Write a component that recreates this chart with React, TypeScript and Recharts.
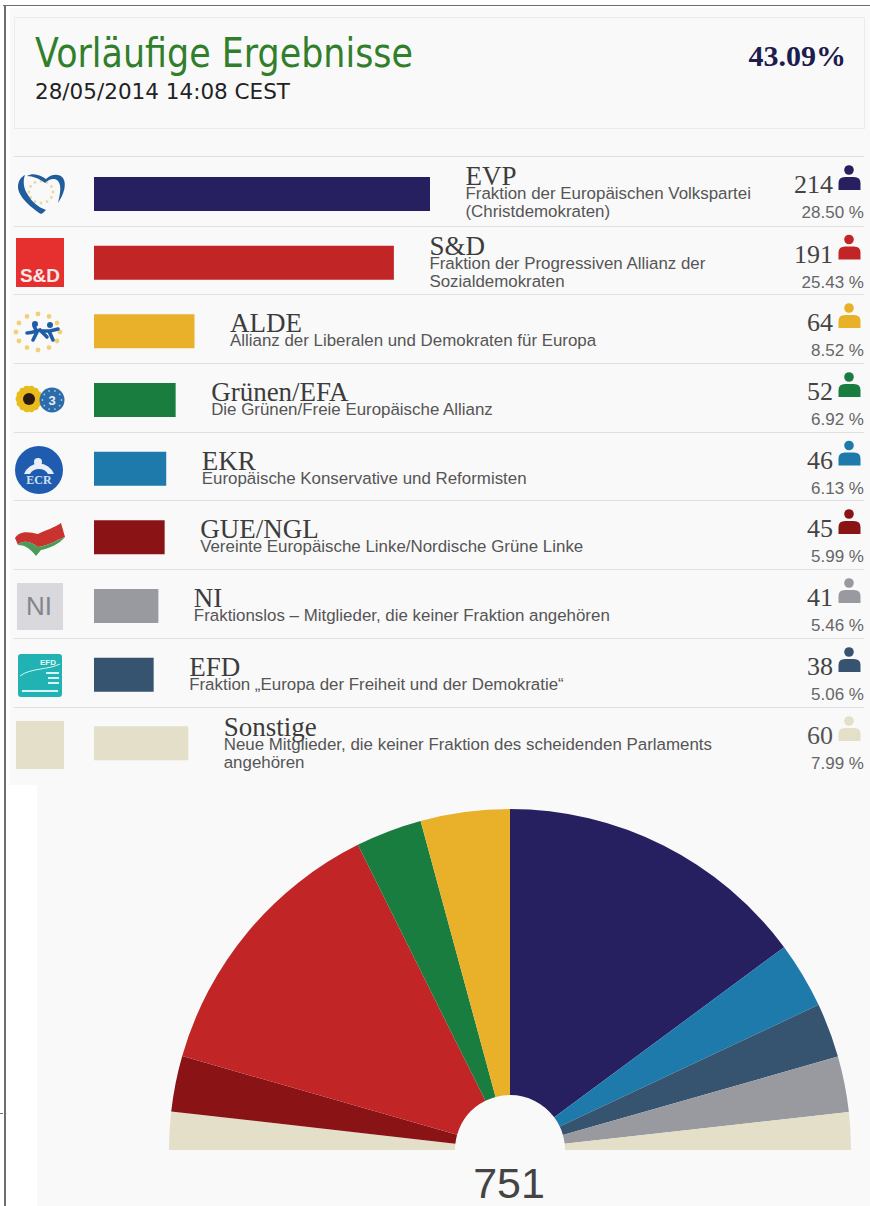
import React from "react";
import { BarChart, Bar, XAxis, YAxis, Cell, PieChart, Pie } from "recharts";

const groupNames = ["EVP", "S&D", "ALDE", "Grünen/EFA", "EKR", "GUE/NGL", "NI", "EFD", "Sonstige"];
const seats = [214, 191, 64, 52, 46, 45, 41, 38, 60];
const percents = ["28.50 %", "25.43 %", "8.52 %", "6.92 %", "6.13 %", "5.99 %", "5.46 %", "5.06 %", "7.99 %"];
const descriptions = [
  ["Fraktion der Europäischen Volkspartei", "(Christdemokraten)"],
  ["Fraktion der Progressiven Allianz der", "Sozialdemokraten"],
  ["Allianz der Liberalen und Demokraten für Europa"],
  ["Die Grünen/Freie Europäische Allianz"],
  ["Europäische Konservative und Reformisten"],
  ["Vereinte Europäische Linke/Nordische Grüne Linke"],
  ["Fraktionslos – Mitglieder, die keiner Fraktion angehören"],
  ["Fraktion „Europa der Freiheit und der Demokratie“"],
  ["Neue Mitglieder, die keiner Fraktion des scheidenden Parlaments", "angehören"],
];
const colors = ["#262060", "#c12526", "#e9b02a", "#1a7d40", "#1d7aab", "#8a1316", "#999aa0", "#36546f", "#e3dfc8"];

// Slice sizes in the hemicycle, as drawn (degrees of the half circle, left to right).
const hemicycleNames = ["Sonstige", "GUE/NGL", "S&D", "Grünen/EFA", "ALDE", "EVP", "EKR", "EFD", "NI", "Sonstige"];
const hemicycleValues = [6.5, 9.5, 47.5, 11.3, 15.2, 53.5, 11.3, 9.3, 9.5, 6.4];
const hemicycleColors = ["#e3dfc8", "#8a1316", "#c12526", "#1a7d40", "#e9b02a", "#262060", "#1d7aab", "#36546f", "#999aa0", "#e3dfc8"];

const title = "Vorläufige Ergebnisse";
const timestamp = "28/05/2014 14:08 CEST";
const turnout = "43.09%";
const totalSeats = "751";

const barRows = groupNames.map((name, i) => ({ name, seats: seats[i] }));
const pieRows = hemicycleNames.map((name, i) => ({ name, value: hemicycleValues[i] }));

const ROW_TOPS = [156, 225.5, 294, 363, 431.5, 500, 569, 638, 707];
const PX_PER_SEAT = 336 / 214;
const SANS = "'Liberation Sans', Arial, sans-serif";
const SERIF = "'Liberation Serif', Georgia, serif";
const DEJA = "'DejaVu Sans', Verdana, sans-serif";

function Stars({ cx, cy, rx, ry, n, r, fill }: any) {
  return (
    <g fill={fill}>
      {Array.from({ length: n }).map((_, i) => {
        const a = (i / n) * Math.PI * 2;
        return <circle key={i} cx={cx + rx * Math.cos(a)} cy={cy + ry * Math.sin(a)} r={r} />;
      })}
    </g>
  );
}

function Logos() {
  return (
    <g>
      {/* EVP heart */}
      <Stars cx={41} cy={192} rx={12} ry={11} n={12} r={1.4} fill="#e6d9a0" />
      <path d="M41 214 C30 207 18 196 18 187 C18 181 21 177 25 175 C23 180 23 188 28 195 C32 202 38 207 46 210 C44 212 43 213 41 214 Z" fill="#1f5d9c" />
      <path d="M27 176 C34 172 41 176 46 179 C51 174 59 173 63 178 C67 184 64 194 58 203 C60 194 62 186 58 181 C54 177 48 180 45 183 C40 179 33 176 27 176 Z" fill="#1f5d9c" />
      {/* S&D */}
      <rect x={16} y={238} width={48} height={49} fill="#e5302f" />
      <text x={40} y={282} textAnchor="middle" fontFamily={SANS} fontWeight="bold" fontSize={19} fill="#f8e8e8">S&amp;D</text>
      {/* ALDE */}
      <Stars cx={38} cy={332} rx={22} ry={18} n={12} r={2.4} fill="#f0d078" />
      <path d="M27 333 C32 333 36 331 40 330 L47 337 M34 326 L37 332 L33 340" stroke="#1f5da8" strokeWidth={3.6} fill="none" strokeLinecap="round" />
      <path d="M42 331 L50 331 L58 329 M49 331 L53 340" stroke="#1f5da8" strokeWidth={3.6} fill="none" strokeLinecap="round" />
      <circle cx={35} cy={324} r={3} fill="#1f5da8" />
      <circle cx={50} cy={325} r={3} fill="#1f5da8" />
      {/* Grünen */}
      <Stars cx={29} cy={399} rx={10} ry={10} n={14} r={3.4} fill="#e8bc1c" />
      <circle cx={29} cy={399} r={10} fill="#e8bc1c" />
      <circle cx={29} cy={399} r={6} fill="#2a1a10" />
      <circle cx={52} cy={400} r={12.5} fill="#2c6cab" />
      <Stars cx={52} cy={400} rx={9.5} ry={9.5} n={10} r={0.9} fill="#a8c8e0" />
      <text x={52} y={405} textAnchor="middle" fontFamily={SANS} fontWeight="bold" fontSize={13} fill="#e8eef5">3</text>
      {/* ECR */}
      <circle cx={39} cy={470} r={24} fill="#1f5cb0" />
      <path d="M24 474 A16 16 0 0 1 54 474 L48 474 A10 9 0 0 0 30 474 Z" fill="#e8eef5" />
      <circle cx={38} cy={462} r={4} fill="#e8eef5" />
      <text x={39} y={484} textAnchor="middle" fontFamily={SERIF} fontWeight="bold" fontSize={12} fill="#cfe0f2">ECR</text>
      {/* GUE/NGL */}
      <path d="M15 538 C20 530 30 532 38 534 C46 530 54 528 61 523 L65 537 C55 541 47 546 38 547 C30 541 22 540 18 545 Z" fill="#c8322f" />
      <path d="M18 545 C22 540 30 541 38 547 C47 546 55 541 65 537 C58 545 50 548 41 550 L36 556 C30 548 24 545 18 545 Z" fill="#4c9a58" />
      {/* NI */}
      <rect x={17} y={583} width={46} height={47} fill="#d9d8dd" />
      <text x={39} y={615} textAnchor="middle" fontFamily={SANS} fontSize={26} fill="#85858a">NI</text>
      {/* EFD */}
      <rect x={18} y={654} width={44} height={43} rx={3} fill="#21b3b4" />
      <path d="M20 676 C30 668 48 670 60 664" stroke="#d8f4f4" strokeWidth={1} fill="none" />
      <text x={48} y={665} textAnchor="middle" fontFamily={SANS} fontWeight="bold" fontSize={8} fill="#e8fafa">EFD</text>
      <rect x={46} y={672} width={13} height={2} fill="#d8f4f4" />
      <rect x={48} y={677} width={11} height={2} fill="#d8f4f4" />
      <rect x={48} y={682} width={11} height={2} fill="#d8f4f4" />
      <rect x={22} y={690} width={36} height={2} fill="#d8f4f4" />
      {/* Sonstige */}
      <rect x={16} y={721} width={48} height={48} fill="#e3dfc8" />
    </g>
  );
}

function Person({ top, fill }: any) {
  const y = top + 14;
  return (
    <g fill={fill}>
      <circle cx={849} cy={y} r={4.8} />
      <path d={`M838.5 ${y + 20} L838.5 ${y + 13} Q838.5 ${y + 7} 845 ${y + 7} L854 ${y + 7} Q860.5 ${y + 7} 860.5 ${y + 13} L860.5 ${y + 20} Z`} />
    </g>
  );
}

export default function App() {
  return (
    <div style={{ position: "absolute", left: 0, top: 0, width: 870, height: 1206, background: "#fff", overflow: "hidden" }}>
      <div style={{ position: "absolute", left: 10, top: 8, width: 860, height: 777, background: "#f9f9f9" }} />
      <div style={{ position: "absolute", left: 37, top: 785, width: 833, height: 421, background: "#f9f9f9" }} />
      <div style={{ position: "absolute", left: 3, top: 5, width: 867, height: 1, background: "#6e6e6e" }} />
      <div style={{ position: "absolute", left: 4, top: 5, width: 1.5, height: 1201, background: "#6e6e6e" }} />
      <div style={{ position: "absolute", left: 0, top: 1113, width: 3, height: 1, background: "#6e6e6e" }} />
      <div style={{ position: "absolute", left: 14, top: 17, width: 849, height: 110, border: "1px solid #ebebeb", boxSizing: "content-box" }} />
      {ROW_TOPS.map((t) => (
        <div key={t} style={{ position: "absolute", left: 14, top: Math.round(t), width: 850, height: 1, background: "#dfdfdf" }} />
      ))}

      <div style={{ position: "absolute", left: 94, top: 160 }}>
        <BarChart width={336} height={618} layout="vertical" data={barRows} margin={{ top: 0, right: 0, bottom: 0, left: 0 }} barCategoryGap={0}>
          <XAxis type="number" hide domain={[0, 214]} />
          <YAxis type="category" dataKey="name" hide />
          <Bar dataKey="seats" barSize={34} isAnimationActive={false}>
            {barRows.map((r, i) => <Cell key={r.name} fill={colors[i]} />)}
          </Bar>
        </BarChart>
      </div>

      <div style={{ position: "absolute", left: 0, top: 780 }}>
        <PieChart width={870} height={400} margin={{ top: 0, right: 0, bottom: 0, left: 0 }}>
          <Pie data={pieRows} dataKey="value" cx={510} cy={370} innerRadius={55} outerRadius={341} startAngle={180} endAngle={0} stroke="none" isAnimationActive={false}>
            {pieRows.map((r, i) => <Cell key={i} fill={hemicycleColors[i]} />)}
          </Pie>
        </PieChart>
      </div>

      <svg width={870} height={1206} style={{ position: "absolute", left: 0, top: 0, pointerEvents: "none" }}>
        <text x={35} y={67} fontFamily={DEJA} fontSize={40} fill="#317f2b" textLength={378} lengthAdjust="spacingAndGlyphs">{title}</text>
        <text x={35} y={99} fontFamily={DEJA} fontSize={22} fill="#222" textLength={255} lengthAdjust="spacingAndGlyphs">{timestamp}</text>
        <text x={846} y={66} textAnchor="end" fontFamily={SERIF} fontWeight="bold" fontSize={30} fill="#1c1c4e">{turnout}</text>
        <Logos />
        {groupNames.map((name, i) => {
          const top = ROW_TOPS[i];
          const x = 94 + seats[i] * PX_PER_SEAT + 35.5;
          const two = descriptions[i].length > 1;
          const nameY = top + (two ? 29 : 38);
          return (
            <g key={name}>
              <text x={x} y={nameY} fontFamily={SERIF} fontSize={27} fill="#3c3c3c">{name}</text>
              {descriptions[i].map((d, j) => (
                <text key={j} x={x} y={nameY + 14 + j * 18} fontFamily={SANS} fontSize={16.9} fill="#555">{d}</text>
              ))}
              <text x={833} y={top + 37} textAnchor="end" fontFamily={SERIF} fontSize={26} fill={i === 8 ? "#555" : "#444"}>{seats[i]}</text>
              <text x={864} y={top + 62} textAnchor="end" fontFamily={SANS} fontSize={17} fill="#666">{percents[i]}</text>
              <Person top={top} fill={colors[i]} />
            </g>
          );
        })}
        <text x={509} y={1198} textAnchor="middle" fontFamily={SANS} fontSize={43} fill="#444">{totalSeats}</text>
      </svg>
    </div>
  );
}
